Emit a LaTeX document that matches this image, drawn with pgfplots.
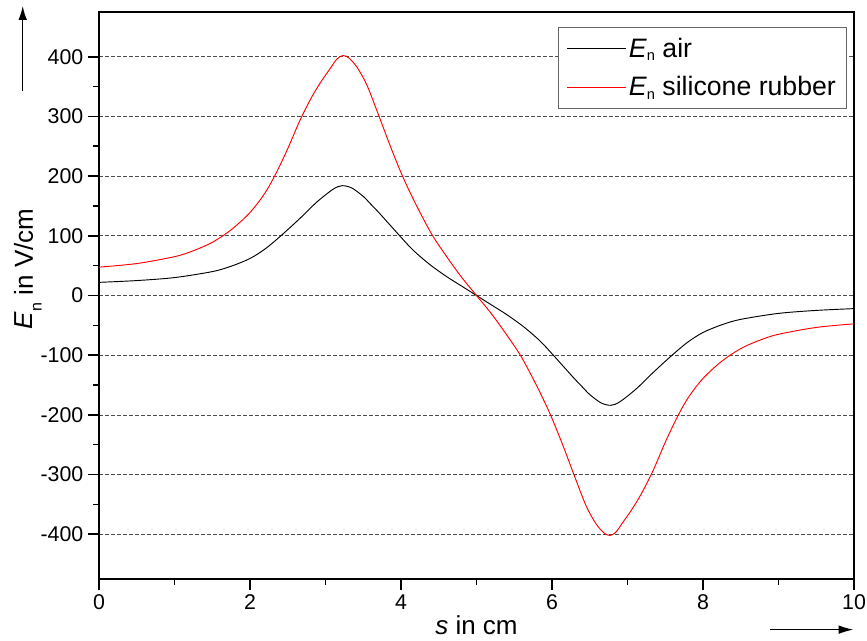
\documentclass[border=0pt]{standalone}
\usepackage{fontspec}
\setmainfont{Liberation Sans}
\usepackage{pgfplots}
\pgfplotsset{compat=1.18}
\usetikzlibrary{arrows.meta}

% E_n along the surface, left half read off, right half mirrored (antisymmetric about s = 5)
\pgfplotstableread{
s En
0.00 22
0.50 25
1.00 30
1.50 40
1.75 49
2.00 62
2.20 78
2.40 99
2.66 129
2.88 156
3.10 178
3.22 184
3.35 180
3.50 166
3.60 153
3.72 137
3.99 99
4.16 76
4.38 52
4.60 32
4.80 16
5.00 0
5.20 -16
5.40 -32
5.62 -52
5.84 -76
6.01 -99
6.28 -137
6.40 -153
6.50 -166
6.65 -180
6.78 -184
6.90 -178
7.12 -156
7.34 -129
7.60 -99
7.80 -78
8.00 -62
8.25 -49
8.50 -40
9.00 -30
9.50 -25
10.00 -22
}\airdata

\pgfplotstableread{
s En
0.00 47.5
0.50 53.5
1.00 65
1.25 75
1.50 89
1.75 110
2.00 139
2.20 172
2.35 206
2.50 246
2.66 293
2.82 333
2.95 360
3.05 378
3.15 396
3.23 402
3.31 398
3.42 382
3.55 352
3.71 300
3.85 253
4.02 200
4.20 152
4.41 102
4.60 66
4.80 31
5.00 0
5.20 -31
5.40 -66
5.59 -102
5.80 -152
5.98 -200
6.15 -253
6.29 -300
6.45 -352
6.58 -382
6.69 -398
6.77 -402
6.85 -396
6.95 -378
7.05 -360
7.18 -333
7.34 -293
7.50 -246
7.65 -206
7.80 -172
8.00 -139
8.25 -110
8.50 -89
8.75 -75
9.00 -65
9.50 -53.5
10.00 -47.5
}\rubberdata

\newcommand{\legsub}{\raisebox{-2.5pt}{\fontsize{11}{12}\selectfont n}}
\newcommand{\labsub}{\raisebox{-6.5pt}{\fontsize{12}{12}\selectfont n}}

\begin{document}
\begin{tikzpicture}
\begin{axis}[
  scale only axis,
  width=566.25pt, height=425.25pt,
  xmin=0, xmax=10,
  ymin=-475, ymax=475,
  xtick={0,2,...,10},
  ytick={-400,-300,...,400},
  minor x tick num=1,
  minor y tick num=1,
  xtick pos=left, ytick pos=left,
  tick align=outside,
  major tick length=8.25pt,
  minor tick length=4.5pt,
  every tick/.style={black, line width=1.2pt},
  axis line style={line width=1.4pt},
  ymajorgrids,
  major grid style={black!70, line width=0.5pt, dash pattern=on 3pt off 1.5pt},
  tick label style={font=\fontsize{16}{18}\selectfont},
  /pgf/number format/assume math mode=true,
  clip=false,
  legend style={at={(0.9907,0.974)}, anchor=north east,
    draw=black!60, line width=0.6pt,
    font=\fontsize{20}{23}\selectfont,
    inner xsep=6pt, inner ysep=6pt, row sep=9pt,
    cells={anchor=west}},
  legend image code/.code={\draw[#1] (0pt,0pt) -- (44pt,0pt);},
]
\addplot[black, line width=0.7pt, smooth] table[x=s, y=En] {\airdata};
\addlegendentry{\textit{E}\legsub\ air}
\addplot[red, line width=0.7pt, smooth] table[x=s, y=En] {\rubberdata};
\addlegendentry{\textit{E}\legsub\ silicone rubber}

\coordinate (SW) at (rel axis cs:0,0);
\coordinate (NE) at (rel axis cs:1,1);

\node[anchor=base, font=\fontsize{19.5}{23}\selectfont]
  at ([yshift=-42pt]rel axis cs:0.5,0) {\textit{s} in cm};
\node[anchor=base, rotate=90, font=\fontsize{19.5}{23}\selectfont]
  at ([xshift=-49.5pt]rel axis cs:0,0.547) {\textit{E}\labsub\ in V/cm};

\draw[line width=1pt, -{Latex[length=10.5pt,width=6.5pt]}]
  ([xshift=-57.2pt,yshift=-59pt]rel axis cs:0,1) -- ([xshift=-57.2pt,yshift=4.5pt]rel axis cs:0,1);
\draw[line width=1pt, -{Latex[length=11pt,width=6.5pt]}]
  ([xshift=-63pt,yshift=-38pt]rel axis cs:1,0) -- ([xshift=-0.5pt,yshift=-38pt]rel axis cs:1,0);
\end{axis}
\pgfresetboundingbox
\path ([shift={(-74.25pt,-46.5pt)}]SW) rectangle ([shift={(9.75pt,9pt)}]NE);
\end{tikzpicture}
\end{document}
